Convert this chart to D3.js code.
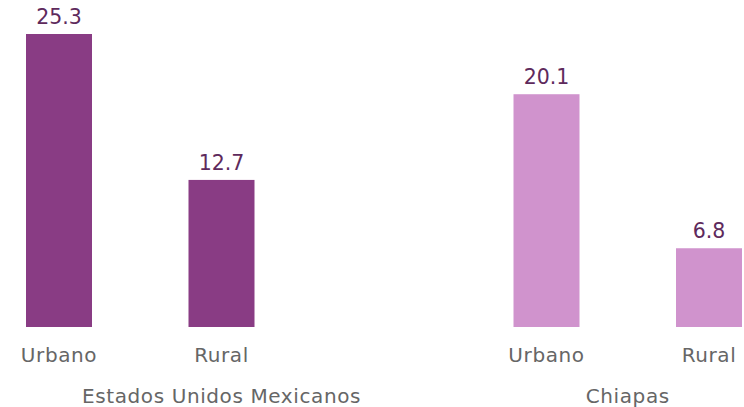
<!DOCTYPE html>
<html>
<head>
<meta charset="utf-8">
<script src="https://cdn.jsdelivr.net/npm/d3@7"></script>
<style>
  body { margin: 0; background: #fff; }
  svg { display: block; font-family: "DejaVu Sans", sans-serif; }
</style>
</head>
<body>
<svg width="744" height="407"></svg>
<script>
const groups = ["Estados Unidos Mexicanos", "Chiapas"];
const categories = ["Urbano", "Rural"];
const values = [[25.3, 12.7], [20.1, 6.8]];
const colors = ["#893c84", "#d093cd"];

const svg = d3.select("svg");
const baseline = 327;

// slots: 2 bars, one empty slot, 2 bars
const x = d3.scaleLinear().domain([0, 4]).range([26, 676]);
const barW = 66;
const y = d3.scaleLinear().domain([0, 25.3]).range([baseline, 34]);

let data = [];
for (let g = 0; g < groups.length; g++) {
    for (let c = 0; c < categories.length; c++) {
        data.push({ g: g, c: c, slot: g * 3 + c, value: values[g][c] });
    }
}

svg.selectAll(".bar").data(data).enter()
    .append("rect")
    .attr("class", "bar")
    .attr("x", d => x(d.slot))
    .attr("y", d => y(d.value))
    .attr("width", barW)
    .attr("height", d => baseline - y(d.value))
    .attr("fill", d => colors[d.g]);

svg.selectAll(".val").data(data).enter()
    .append("text")
    .attr("class", "val")
    .attr("x", d => x(d.slot) + barW / 2)
    .attr("y", d => y(d.value) - 10)
    .attr("text-anchor", "middle")
    .attr("font-size", 20.5)
    .attr("fill", "#5e2a5c")
    .text(d => d.value.toFixed(1));

svg.selectAll(".cat").data(data).enter()
    .append("text")
    .attr("class", "cat")
    .attr("x", d => x(d.slot) + barW / 2)
    .attr("y", 362)
    .attr("text-anchor", "middle")
    .attr("font-size", 20)
    .attr("letter-spacing", 0.6)
    .attr("fill", "#666")
    .text(d => categories[d.c]);

// group labels
const groupX = [x(1) + barW / 2, (x(3) + x(4)) / 2 + barW / 2];
svg.selectAll(".grp").data(groups).enter()
    .append("text")
    .attr("class", "grp")
    .attr("x", (d, i) => groupX[i])
    .attr("y", 403)
    .attr("text-anchor", "middle")
    .attr("font-size", 20)
    .attr("letter-spacing", 0.6)
    .attr("fill", "#666")
    .text(d => d);
</script>
</body>
</html>
